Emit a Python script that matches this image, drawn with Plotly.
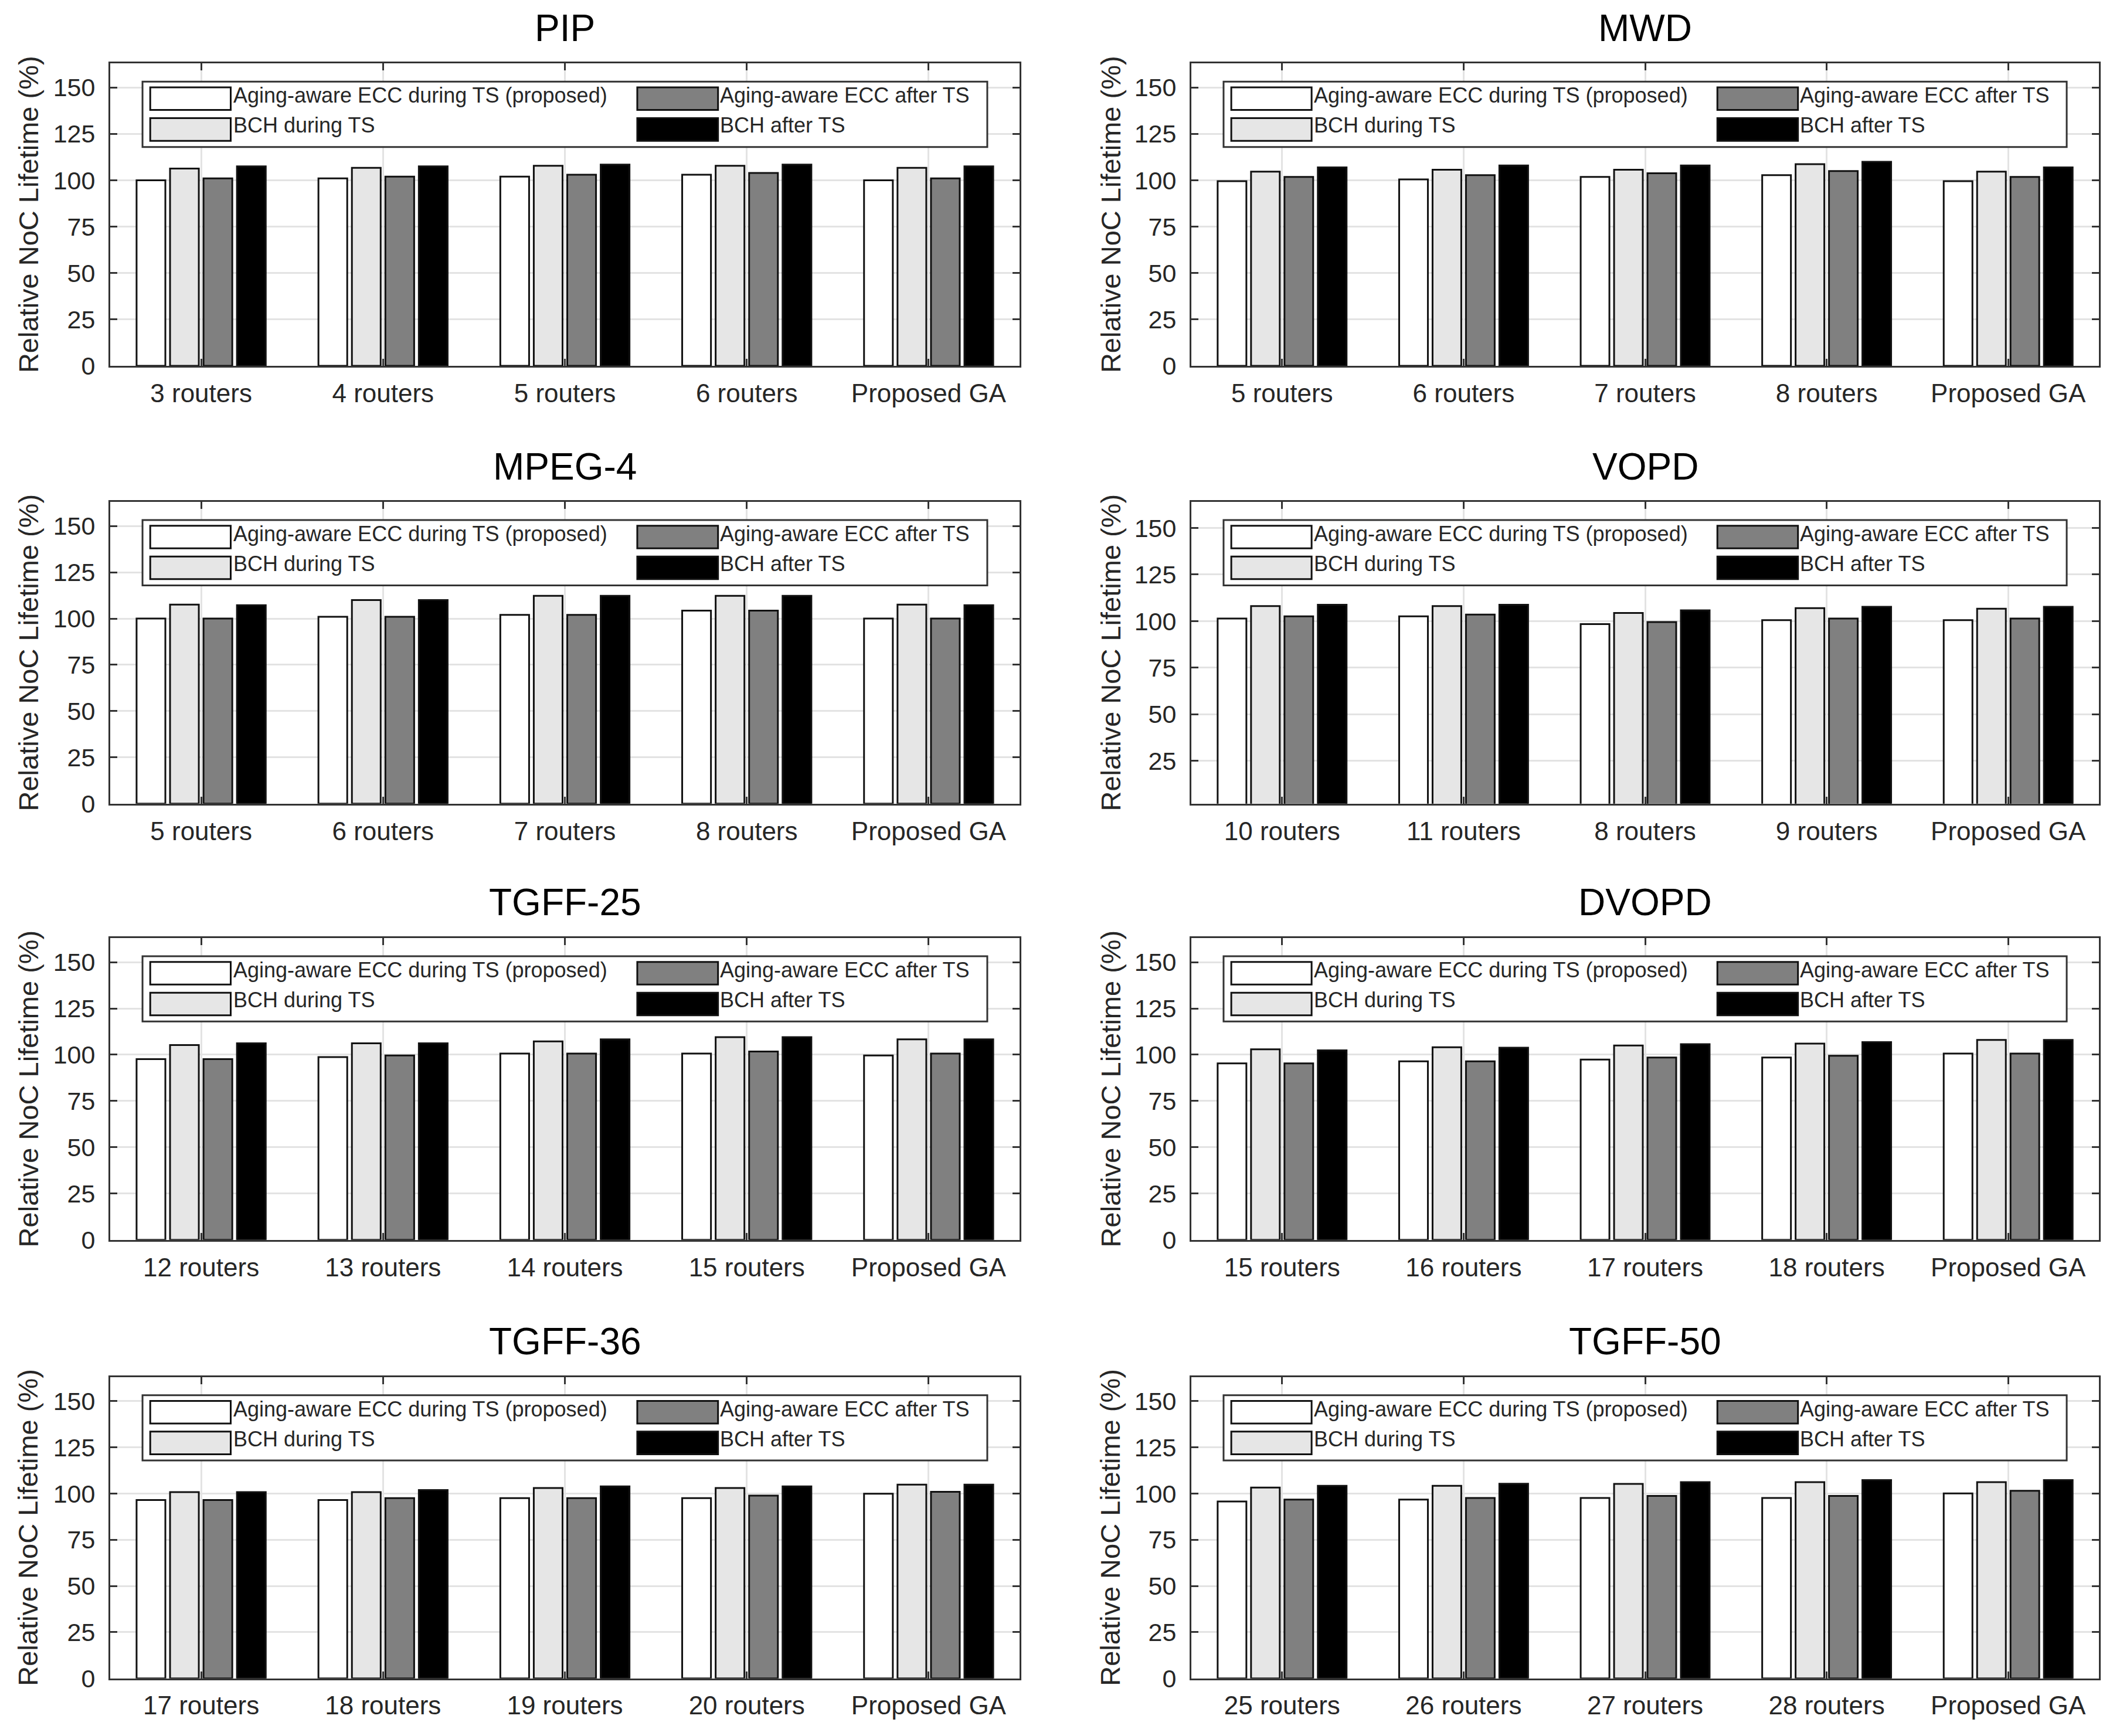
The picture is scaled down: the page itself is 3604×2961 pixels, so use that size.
import plotly.graph_objects as go
from plotly.subplots import make_subplots

# ---------------- data ----------------
series_names = ["Aging-aware ECC during TS (proposed)", "BCH during TS",
                "Aging-aware ECC after TS", "BCH after TS"]
series_colors = ["#ffffff", "#e6e6e6", "#808080", "#000000"]

panel_titles = ["PIP", "MWD", "MPEG-4", "VOPD", "TGFF-25", "DVOPD", "TGFF-36", "TGFF-50"]

pip_categories = ["3 routers", "4 routers", "5 routers", "6 routers", "Proposed GA"]
pip_ecc_during = [100.0, 101.0, 102.0, 103.0, 100.0]
pip_bch_during = [106.3, 106.7, 107.8, 107.8, 106.7]
pip_ecc_after = [101.0, 102.0, 103.0, 104.0, 101.0]
pip_bch_after = [107.5, 107.5, 108.5, 108.5, 107.5]

mwd_categories = ["5 routers", "6 routers", "7 routers", "8 routers", "Proposed GA"]
mwd_ecc_during = [99.5, 100.5, 101.8, 102.8, 99.5]
mwd_bch_during = [104.7, 105.7, 105.7, 108.7, 104.7]
mwd_ecc_after = [101.8, 102.8, 103.8, 105.0, 101.8]
mwd_bch_after = [107.0, 108.0, 108.0, 110.0, 107.0]

mpeg4_categories = ["5 routers", "6 routers", "7 routers", "8 routers", "Proposed GA"]
mpeg4_ecc_during = [100.0, 101.0, 102.0, 104.3, 100.0]
mpeg4_bch_during = [107.5, 110.0, 112.3, 112.3, 107.5]
mpeg4_ecc_after = [100.0, 101.0, 102.0, 104.3, 100.0]
mpeg4_bch_after = [107.2, 110.0, 112.3, 112.3, 107.2]

vopd_categories = ["10 routers", "11 routers", "8 routers", "9 routers", "Proposed GA"]
vopd_ecc_during = [101.4, 102.6, 98.4, 100.5, 100.5]
vopd_bch_during = [108.1, 108.1, 104.4, 107.0, 106.7]
vopd_ecc_after = [102.6, 103.5, 99.5, 101.4, 101.4]
vopd_bch_after = [108.8, 108.8, 105.8, 107.7, 107.7]

tgff25_categories = ["12 routers", "13 routers", "14 routers", "15 routers", "Proposed GA"]
tgff25_ecc_during = [97.6, 98.7, 100.6, 100.6, 99.6]
tgff25_bch_during = [105.2, 106.2, 107.2, 109.5, 108.3]
tgff25_ecc_after = [97.6, 99.6, 100.6, 101.7, 100.6]
tgff25_bch_after = [106.2, 106.2, 108.3, 109.5, 108.3]

dvopd_categories = ["15 routers", "16 routers", "17 routers", "18 routers", "Proposed GA"]
dvopd_ecc_during = [95.3, 96.4, 97.4, 98.5, 100.6]
dvopd_bch_during = [102.9, 104.0, 105.0, 106.0, 108.0]
dvopd_ecc_after = [95.3, 96.4, 98.5, 99.4, 100.6]
dvopd_bch_after = [102.4, 103.8, 105.7, 106.8, 108.0]

tgff36_categories = ["17 routers", "18 routers", "19 routers", "20 routers", "Proposed GA"]
tgff36_ecc_during = [96.5, 96.5, 97.5, 97.5, 99.9]
tgff36_bch_during = [100.8, 100.8, 103.0, 103.0, 104.8]
tgff36_ecc_after = [96.5, 97.5, 97.5, 98.9, 100.9]
tgff36_bch_after = [100.8, 101.9, 103.9, 103.9, 104.8]

tgff50_categories = ["25 routers", "26 routers", "27 routers", "28 routers", "Proposed GA"]
tgff50_ecc_during = [95.7, 96.7, 97.6, 97.6, 100.1]
tgff50_bch_during = [103.2, 104.2, 105.2, 106.2, 106.2]
tgff50_ecc_after = [96.7, 97.6, 98.7, 98.7, 101.5]
tgff50_bch_after = [104.2, 105.3, 106.2, 107.3, 107.3]

y_ticks = [0, 25, 50, 75, 100, 125, 150]
vopd_y_ticks = [25, 50, 75, 100, 125, 150]
y_title = "Relative NoC Lifetime (%)"

panels = [
    (pip_categories, [pip_ecc_during, pip_bch_during, pip_ecc_after, pip_bch_after]),
    (mwd_categories, [mwd_ecc_during, mwd_bch_during, mwd_ecc_after, mwd_bch_after]),
    (mpeg4_categories, [mpeg4_ecc_during, mpeg4_bch_during, mpeg4_ecc_after, mpeg4_bch_after]),
    (vopd_categories, [vopd_ecc_during, vopd_bch_during, vopd_ecc_after, vopd_bch_after]),
    (tgff25_categories, [tgff25_ecc_during, tgff25_bch_during, tgff25_ecc_after, tgff25_bch_after]),
    (dvopd_categories, [dvopd_ecc_during, dvopd_bch_during, dvopd_ecc_after, dvopd_bch_after]),
    (tgff36_categories, [tgff36_ecc_during, tgff36_bch_during, tgff36_ecc_after, tgff36_bch_after]),
    (tgff50_categories, [tgff50_ecc_during, tgff50_bch_during, tgff50_ecc_after, tgff50_bch_after]),
]

# ---------------- layout ----------------
W, H = 3604, 2961
FONT = "Liberation Sans, Arial, Helvetica, sans-serif"
col_px = [(180, 1731), (2024, 3572)]
row_px = [(101, 621), (855, 1374), (1605, 2124), (2360, 2878)]
ytitle_x_px = [40, 1886]

fig = make_subplots(rows=4, cols=2)

annotations = []
shapes = []

for i, (cats, vals) in enumerate(panels):
    r, c = i // 2, i % 2
    ax = "" if i == 0 else str(i + 1)
    for s in range(4):
        fig.add_trace(go.Bar(
            x=list(range(len(cats))), y=vals[s], name=series_names[s],
            marker=dict(color=series_colors[s], line=dict(color="#111111", width=3)),
            showlegend=False,
        ), row=r + 1, col=c + 1)

    x0p, x1p = col_px[c]
    y0p, y1p = row_px[r]
    xdom = [x0p / W, x1p / W]
    ydom = [1 - y1p / H, 1 - y0p / H]
    is_vopd = panel_titles[i] == "VOPD"
    fig.update_xaxes(
        domain=xdom, range=[-0.5, len(cats) - 0.5],
        tickmode="array", tickvals=list(range(len(cats))), ticktext=cats,
        showgrid=True, gridcolor="#e3e3e3", gridwidth=3,
        showline=True, linecolor="#333333", linewidth=3, mirror="ticks",
        ticks="inside", ticklen=12, tickwidth=3, tickcolor="#333333",
        tickfont=dict(family=FONT, size=44, color="#262626"),
        ticklabelstandoff=6, zeroline=False,
        row=r + 1, col=c + 1)
    fig.update_yaxes(
        domain=ydom, range=[2, 164] if is_vopd else [0, 163],
        tickmode="array", tickvals=vopd_y_ticks if is_vopd else y_ticks,
        showgrid=True, gridcolor="#e3e3e3", gridwidth=3,
        showline=True, linecolor="#333333", linewidth=3, mirror="ticks",
        ticks="inside", ticklen=12, tickwidth=3, tickcolor="#333333",
        tickfont=dict(family=FONT, size=43, color="#262626"),
        ticklabelstandoff=14, zeroline=False,
        row=r + 1, col=c + 1)

    # panel title
    annotations.append(dict(
        text=panel_titles[i], x=(x0p + x1p) / 2 / W, y=1 - (y0p - 61) / H,
        xref="paper", yref="paper", xanchor="center", yanchor="middle",
        showarrow=False, font=dict(family=FONT, size=64, color="#000000")))
    # y axis title
    annotations.append(dict(
        text=y_title, x=ytitle_x_px[c] / W, y=(ydom[0] + ydom[1]) / 2,
        xref="paper", yref="paper", xanchor="center", yanchor="middle",
        textangle=-90, showarrow=False,
        font=dict(family=FONT, size=47, color="#262626")))

    # legend box (drawn inside the axes, like MATLAB)
    xr, yr = "x%s domain" % ax, "y%s domain" % ax
    shapes.append(dict(type="rect", xref=xr, yref=yr, x0=0.0355, x1=0.9645,
                       y0=0.7235, y1=0.940, fillcolor="#ffffff",
                       line=dict(color="#333333", width=3), layer="above"))
    # legend placement: row1 -> series 0, 2 ; row2 -> series 1, 3
    slots = [(0, 0, 0), (2, 1, 0), (1, 0, 1), (3, 1, 1)]
    sw_x = [(0.0440, 0.1325), (0.5796, 0.6684)]
    sw_y = [(0.846, 0.921), (0.744, 0.819)]
    tx_x = [0.134, 0.669]
    tx_y = [0.894, 0.795]
    for s, cc, rr in slots:
        shapes.append(dict(type="rect", xref=xr, yref=yr,
                           x0=sw_x[cc][0], x1=sw_x[cc][1],
                           y0=sw_y[rr][0], y1=sw_y[rr][1],
                           fillcolor=series_colors[s],
                           line=dict(color="#111111", width=3), layer="above"))
        annotations.append(dict(text=series_names[s], xref=xr, yref=yr,
                                x=tx_x[cc], y=tx_y[rr], xanchor="left", yanchor="middle",
                                showarrow=False,
                                font=dict(family=FONT, size=36, color="#262626")))

fig.update_layout(
    width=W, height=H, margin=dict(l=0, r=0, t=0, b=0),
    paper_bgcolor="#ffffff", plot_bgcolor="#ffffff",
    barmode="group", bargap=0.264, bargroupgap=0.14,
    showlegend=False, annotations=annotations, shapes=shapes,
    font=dict(family=FONT),
)

fig.write_html("out.html")
